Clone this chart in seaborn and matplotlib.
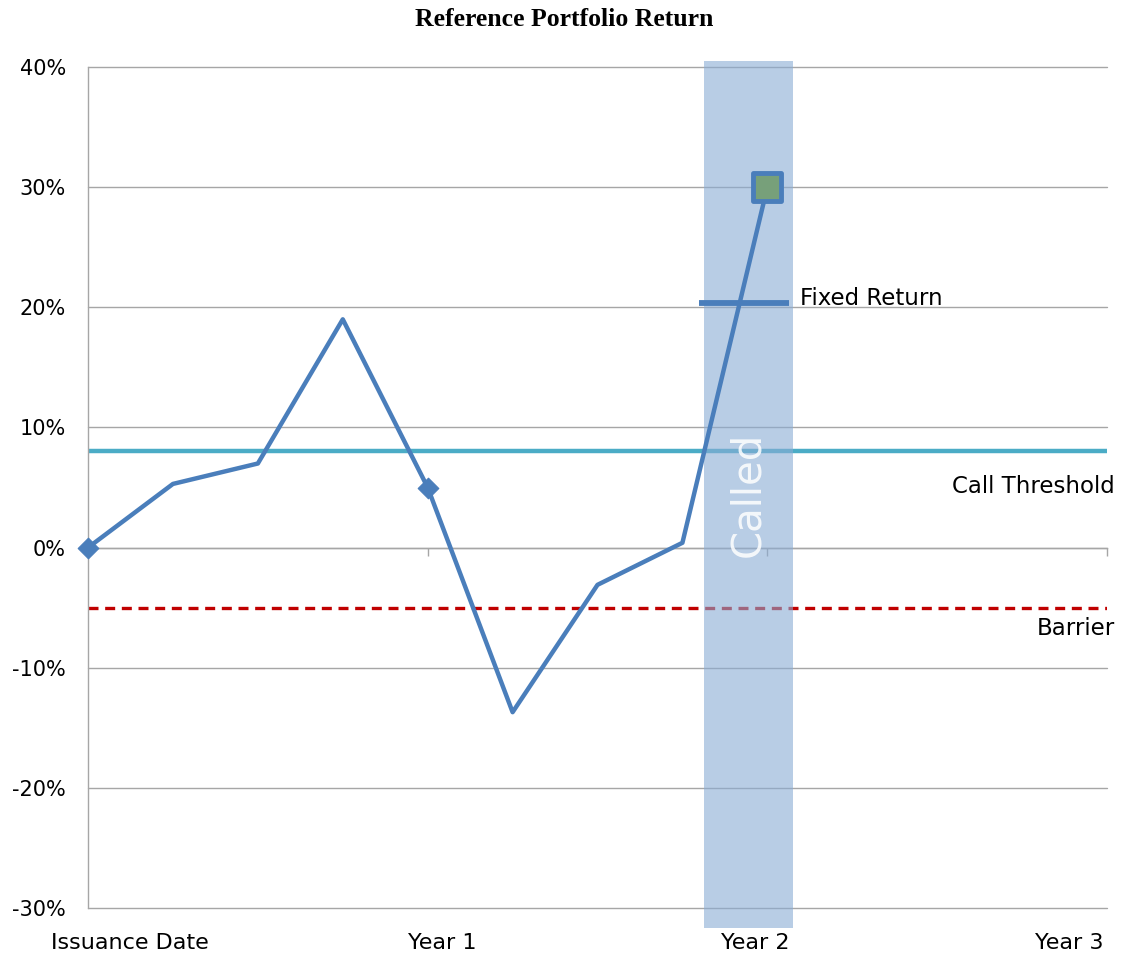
import matplotlib
matplotlib.use("Agg")
import matplotlib.pyplot as plt
import matplotlib.transforms as mtransforms
from matplotlib.ticker import FuncFormatter
import seaborn as sns

# Reference portfolio path, sampled quarterly (years since issuance)
years = [0.0, 0.25, 0.5, 0.75, 1.0, 1.25, 1.5, 1.75, 2.0]
returns = [0.0, 5.3, 7.0, 19.0, 5.0, -13.7, -3.1, 0.4, 30.0]

# Observation dates highlighted with markers
obs_years = [0.0, 1.0]
obs_returns = [0.0, 5.0]
call_year = [2.0]
call_return = [30.0]

# Product parameters (%)
call_threshold = 8.0
barrier = -5.0
fixed_return = 20.4
called_window = (1.813, 2.075)

x_labels = ["Issuance Date", "Year 1", "Year 2", "Year 3"]
y_ticks = [-30, -20, -10, 0, 10, 20, 30, 40]

sns.set_theme(style="white")
plt.rcParams["font.family"] = ["DejaVu Sans"]
plt.rcParams["text.color"] = "black"
plt.rcParams["xtick.color"] = "black"
plt.rcParams["ytick.color"] = "black"

fig = plt.figure(figsize=(11.26, 9.63), dpi=100)
ax = fig.add_axes([0.0782, 0.0571, 0.9049, 0.8733])

ax.set_xlim(0, 3)
ax.set_ylim(-30, 40)
ax.set_yticks(y_ticks)
ax.yaxis.set_major_formatter(FuncFormatter(lambda v, _: f"{v:.0f}%"))
ax.grid(axis="y", color="#a6a6a6", linewidth=1.0, zorder=0)
ax.grid(axis="x", visible=False)
for gl in ax.get_ygridlines():
    gl.set_clip_on(False)

for side in ("top", "right"):
    ax.spines[side].set_visible(False)
ax.spines["left"].set_color("#a6a6a6")
ax.spines["left"].set_linewidth(1.0)
ax.spines["bottom"].set_position(("data", 0))
ax.spines["bottom"].set_color("#a6a6a6")
ax.spines["bottom"].set_linewidth(1.0)

# category ticks on the zero line, labels below the plot
ax.set_xticks([1, 2, 3])
ax.tick_params(axis="x", direction="out", length=6, width=1, color="#a6a6a6",
               labelbottom=False, bottom=True)
ax.tick_params(axis="y", length=0, pad=16, labelsize=15, labelcolor="black")

sec = ax.secondary_xaxis(-0.0)
sec.set_xticks([0.124, 1.042, 1.964, 2.89])
sec.set_xticklabels(x_labels)
sec.tick_params(length=0, pad=18, labelsize=16, labelcolor="black")
sec.spines["bottom"].set_visible(False)

# reference levels
ax.axhline(call_threshold, color="#4bacc6", linewidth=3.2, zorder=2)
ax.axhline(barrier, color="#c00000", linewidth=2.4, linestyle=(0, (3, 2)), zorder=2)

# called window
ax.axvspan(*called_window, ymin=-0.0238, ymax=1.0071, color="#8aacd4", alpha=0.6,
           linewidth=0, zorder=3, clip_on=False)
ax.text(sum(called_window) / 2, 4.4, "Called", rotation=90, ha="center", va="center",
        color="white", alpha=0.85, fontsize=29, zorder=4)

# portfolio path
sns.lineplot(x=years, y=returns, ax=ax, color="#4a7ebb", linewidth=3.2, zorder=5)
sns.scatterplot(x=obs_years, y=obs_returns, ax=ax, marker="D", s=110,
                color="#4a7ebb", edgecolor="#4a7ebb", zorder=6, clip_on=False)
sns.scatterplot(x=call_year, y=call_return, ax=ax, marker="s", s=380,
                color="#77a07a", edgecolor="#4a7ebb", linewidth=3.5, zorder=7,
                clip_on=False)

# fixed return payout level
ax.plot([1.80, 2.065], [fixed_return, fixed_return], color="#4a7ebb",
        linewidth=4.2, solid_capstyle="butt", zorder=6)
ax.text(2.095, fixed_return + 0.3, "Fixed Return", ha="left", va="center",
        fontsize=16.5, color="black")

# level labels sitting just past the right edge
right = mtransforms.blended_transform_factory(ax.transAxes, ax.transData)
ax.text(1.0075, call_threshold - 2.9, "Call Threshold", transform=right,
        ha="right", va="center", fontsize=16.5, color="black")
ax.text(1.0075, barrier - 1.75, "Barrier", transform=right,
        ha="right", va="center", fontsize=16.5, color="black")

fig.suptitle("Reference Portfolio Return", x=0.501, y=0.992, va="top", color="black",
             fontsize=18.5, fontweight="bold", family=["Liberation Serif", "DejaVu Serif"])

fig.savefig("out.png", dpi=100)
